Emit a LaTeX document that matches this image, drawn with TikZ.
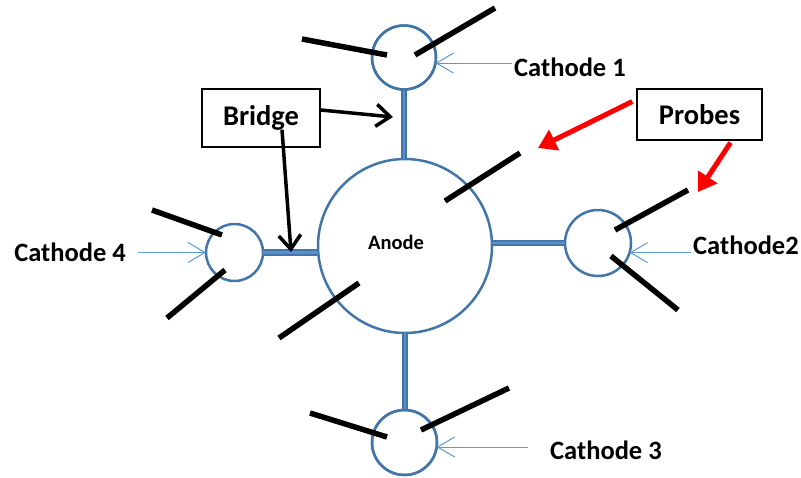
\documentclass[tikz,border=0pt]{standalone}
\usepackage{fontspec}
\setmainfont{Carlito}
\usetikzlibrary{arrows.meta}
\definecolor{ringblue}{HTML}{4275A8}
\definecolor{innerblue}{HTML}{5B8FCB}
\definecolor{thinblue}{HTML}{5B9BD5}
\definecolor{probered}{HTML}{FF0000}
\begin{document}
\begin{tikzpicture}[x=1pt,y=-1pt,
  ring/.style={circle,draw=ringblue,line width=2.5pt,inner sep=0pt,outer sep=0pt,fill=white},
  bridgeouter/.style={draw=ringblue,line width=6.5pt},
  bridgeinner/.style={draw=innerblue,line width=2.5pt},
  probe/.style={line width=5.5pt,black},
  thinarr/.style={draw=thinblue,line width=1pt,-{Straight Barb[length=17pt,width=20pt,line width=1pt]}},
  blackarr/.style={draw=black,line width=3.5pt,-{Straight Barb[length=14pt,width=22pt,line width=3.5pt]}},
  redarr/.style={draw=probered,line width=5pt,-{Triangle[length=18pt,width=22pt]}},
  lbl/.style={font=\bfseries\fontsize{26.5}{28}\selectfont,inner sep=2pt},
  boxlbl/.style={draw=black,line width=1.3pt,font=\bfseries\fontsize{28.5}{30}\selectfont,inner sep=0pt}
]
\useasboundingbox (0,0) rectangle (801,477);

% circles
\node[ring,minimum size=174pt] (anode) at (405,246) {};
\node[font=\bfseries\fontsize{20.5}{22}\selectfont] (anodelbl) at (396,242) {Anode};
\node[ring,minimum size=64pt] (c1) at (404,57.5) {};
\node[ring,minimum size=66pt] (c2) at (598,243) {};
\node[ring,minimum size=65pt] (c3) at (404.5,442.5) {};
\node[ring,minimum size=57pt] (c4) at (234.5,252.5) {};

% bridges
\foreach \a/\b in {{(c1.south)}/{(c1.south |- anode.north)},
                   {(anode.south)}/{(anode.south |- c3.north)},
                   {(c4.east)}/{(c4.east -| anode.west)},
                   {(anode.east |- c2.west)}/{(c2.west)}}{
  \draw[bridgeouter] \a -- \b;
  \draw[bridgeinner] \a -- \b;
}
\draw[ring,fill=none] (c1) circle (32pt);
\draw[ring,fill=none] (c3) circle (32.5pt);

% probes
\draw[probe] (302,39) -- (387,55);
\draw[probe] (415,55) -- (495,8);
\draw[probe] (152,210) -- (222,235);
\draw[probe] (225,270) -- (167,318);
\draw[probe] (615,230) -- (688,190);
\draw[probe] (611,256) -- (678,310);
\draw[probe] (310,413) -- (387,437);
\draw[probe] (421,430) -- (509,388);
\draw[probe] (445,201) -- (520,153);
\draw[probe] (279,338) -- (359,283);

% cathode labels
\node[lbl,anchor=west] (l1) at (512,67) {Cathode 1};
\node[lbl,anchor=west] (l2) at (691,245) {Cathode2};
\node[lbl,anchor=west] (l3) at (548,450) {Cathode 3};
\node[lbl,anchor=east] (l4) at (128,252) {Cathode 4};

\draw[thinarr] (l1.west |- c1.-10) -- (c1.-10);
\draw[thinarr] (l2.west |- c2.-17) -- (c2.-17);
\draw[thinarr] ([xshift=-20pt]l3.west |- c3.-8) -- (c3.-8);
\draw[thinarr] ([xshift=10pt]l4.east |- c4.west) -- (c4.west);

% bridge box
\node[boxlbl,minimum width=118pt,minimum height=58pt] (bridge) at (261,118) {Bridge};
\coordinate (bt1) at (393,117);
\coordinate (bt2) at (291,252);
\draw[blackarr] ([yshift=8pt]bridge.east) -- (bt1);
\draw[blackarr] ([xshift=21pt,yshift=18pt]bridge.south) -- (bt2);

% probes box
\node[boxlbl,minimum width=125pt,minimum height=51pt] (probes) at (699.5,114.5) {Probes};
\coordinate (pt1) at (538,148);
\coordinate (pt2) at (698,192);
\draw[redarr] ([xshift=-4pt,yshift=13pt]probes.west) -- (pt1);
\draw[redarr] ([xshift=31pt,yshift=-2pt]probes.south) -- (pt2);
\end{tikzpicture}
\end{document}
